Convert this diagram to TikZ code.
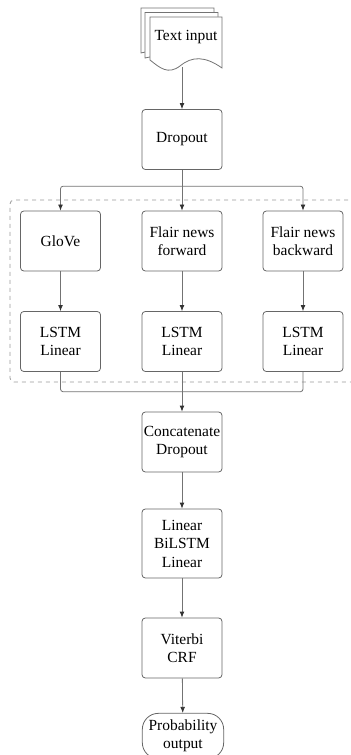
\documentclass[tikz,border=0pt]{standalone}
\usepackage{fontspec}
\setmainfont{Liberation Serif}
\usetikzlibrary{positioning, arrows.meta, calc}

\begin{document}
\begin{tikzpicture}[
  x=0.75pt, y=-0.75pt,
  >={Latex[length=4.5pt,width=3.6pt,color=black!80]},
  every node/.style={font=\fontsize{11.6}{13.9}\selectfont},
  block/.style={draw=black!60, line width=0.6pt, rounded corners=2.5pt, align=center,
    minimum width=60pt, minimum height=45pt, inner sep=1pt},
  link/.style={draw=black!55, line width=0.6pt},
  flow/.style={link, ->},
  docline/.style={draw=black!55, line width=0.6pt, fill=white}
]
\useasboundingbox (0,0) rectangle (350,755);

% Text input (stacked documents)
\draw[docline] (141,8) -- (214,8) -- (214,50) .. controls (195,42) and (175,45) .. (141,53) -- cycle;
\draw[docline] (145,12.5) -- (218,12.5) -- (218,56) .. controls (199,48) and (179,51) .. (145,58) -- cycle;
\draw[docline] (150,17) -- (222,17) -- (222,68) .. controls (205,56) and (192,56) .. (180,66)
  .. controls (168,75) and (160,68) .. (150,60) -- cycle;
\node (txt) at (186,37) {Text input};
\coordinate (txtout) at (182,67);

% Upper part
\node[block] (drop) at (182,139.5) {Dropout};

% Embeddings (dashed frame)
\draw[black!40, dashed, line width=0.6pt, rounded corners=3pt] (356,200) -- (10,200) -- (10,382) -- (356,382);
\node[block] (glove) at (60.5,241) {GloVe};
\node[block] (fwd) at (182,241) {Flair news\\forward};
\node[block] (bwd) at (303,241) {Flair news\\backward};
\node[block] (lstmA) at (60.5,341.5) {LSTM\\Linear};
\node[block] (lstmB) at (182,341.5) {LSTM\\Linear};
\node[block] (lstmC) at (303,341.5) {LSTM\\Linear};

% Lower part
\node[block] (concat) at (182,442) {Concatenate\\Dropout};
\node[block, minimum height=51.75pt] (bilstm) at (182,543.5) {Linear\\BiLSTM\\Linear};
\node[block] (crf) at (182,648) {Viterbi\\CRF};
\node[draw=black!60, line width=0.6pt, rounded corners=12pt, align=center,
  minimum width=61pt, minimum height=34pt, inner sep=1pt] (prob) at (183,736) {Probability\\output};

% Connectors
\coordinate (split) at ($(drop.south)!0.4!(fwd.north)$);
\coordinate (join) at ($(lstmB.south)!0.5!(concat.north)$);
\draw[flow] (txtout) -- (drop);
\draw[flow] (drop) -- (fwd);
\draw[flow, rounded corners=2pt] (split) -| (glove);
\draw[flow, rounded corners=2pt] (split) -| (bwd);
\draw[flow] (glove) -- (lstmA);
\draw[flow] (fwd) -- (lstmB);
\draw[flow] (bwd) -- (lstmC);
\draw[link, rounded corners=2pt] (lstmA) |- (join) -| (lstmC);
\draw[flow] (lstmB) -- (concat);
\draw[flow] (concat) -- (bilstm);
\draw[flow] (bilstm) -- (crf);
\draw[flow] (crf) -- (prob);
\end{tikzpicture}
\end{document}
